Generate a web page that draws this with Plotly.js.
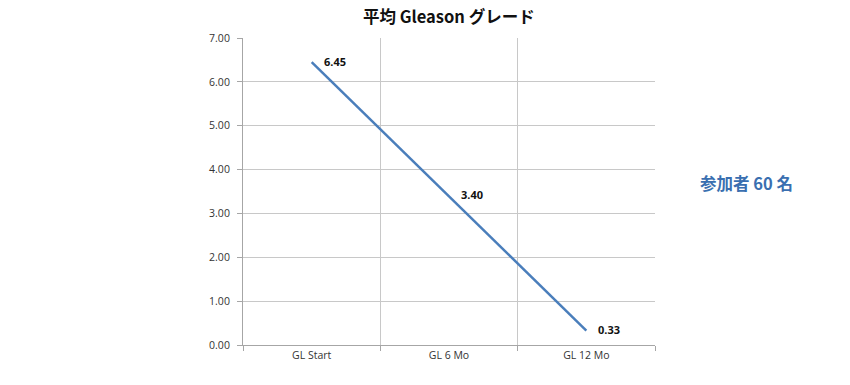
<!DOCTYPE html>
<html>
<head>
<meta charset="utf-8">
<script src="https://cdn.plot.ly/plotly-3.0.1.min.js"></script>
<style>html,body{margin:0;padding:0;background:#fff;}#chart{width:850px;height:385px;}</style>
</head>
<body>
<div id="chart"></div>
<script>
const categories = ["GL Start", "GL 6 Mo", "GL 12 Mo"];
const gleasonValues = [6.45, 3.40, 0.33];
const valueLabels = ["6.45", "3.40", "0.33"];
const yTickVals = [0, 1, 2, 3, 4, 5, 6, 7];
const yTickText = ["0.00", "1.00", "2.00", "3.00", "4.00", "5.00", "6.00", "7.00"];
const chartTitle = "平均 Gleason グレード";
const participantNote = "参加者 60 名";

const trace = {
  x: categories,
  y: gleasonValues,
  type: "scatter",
  mode: "lines",
  line: {color: "#4a7ebb", width: 2.5},
  hoverinfo: "skip"
};

const labelAnnotations = categories.map((c, i) => ({
  x: c, y: gleasonValues[i], xref: "x", yref: "y",
  text: "<b>" + valueLabels[i] + "</b>",
  showarrow: false, xanchor: "left", yanchor: "middle",
  xshift: 10, yshift: 1,
  font: {family: "Noto Sans, sans-serif", size: 11, color: "#111"}
}));

const layout = {
  width: 850, height: 385,
  margin: {l: 243, r: 195, t: 38, b: 40},
  paper_bgcolor: "#fff", plot_bgcolor: "#fff",
  showlegend: false,
  title: {
    text: "<b>" + chartTitle + "</b>",
    font: {family: "Noto Sans CJK JP, Noto Sans, sans-serif", size: 16.5, color: "#111"},
    x: 0.528, xanchor: "center", y: 0.955, yanchor: "middle"
  },
  xaxis: {
    type: "category",
    range: [-0.5, 2.5],
    tickson: "boundaries",
    ticks: "outside", ticklen: 5, tickcolor: "#a6a6a6",
    showgrid: true, gridcolor: "#c8c8c8", gridwidth: 1,
    showline: true, linecolor: "#a6a6a6", linewidth: 1,
    tickfont: {family: "Open Sans, sans-serif", size: 10.5, color: "#333"},
    zeroline: false, fixedrange: true
  },
  yaxis: {
    range: [0, 7],
    tickvals: yTickVals, ticktext: yTickText,
    ticks: "outside", ticklen: 5, tickcolor: "#a6a6a6",
    ticklabelstandoff: 5,
    showgrid: true, gridcolor: "#c8c8c8", gridwidth: 1,
    showline: true, linecolor: "#a6a6a6", linewidth: 1,
    tickfont: {family: "Open Sans, sans-serif", size: 10.5, color: "#333"},
    zeroline: false, fixedrange: true
  },
  annotations: labelAnnotations.concat([{
    text: "<b>" + participantNote + "</b>",
    xref: "paper", yref: "paper",
    x: 1.0 + (746 - 655) / 412, y: (345 - 183) / 307,
    xanchor: "center", yanchor: "middle",
    showarrow: false,
    font: {family: "Noto Sans CJK JP, Noto Sans, sans-serif", size: 16.5, color: "#3a6fb0"}
  }])
};

Plotly.newPlot("chart", [trace], layout, {displayModeBar: false, staticPlot: true});
</script>
</body>
</html>
